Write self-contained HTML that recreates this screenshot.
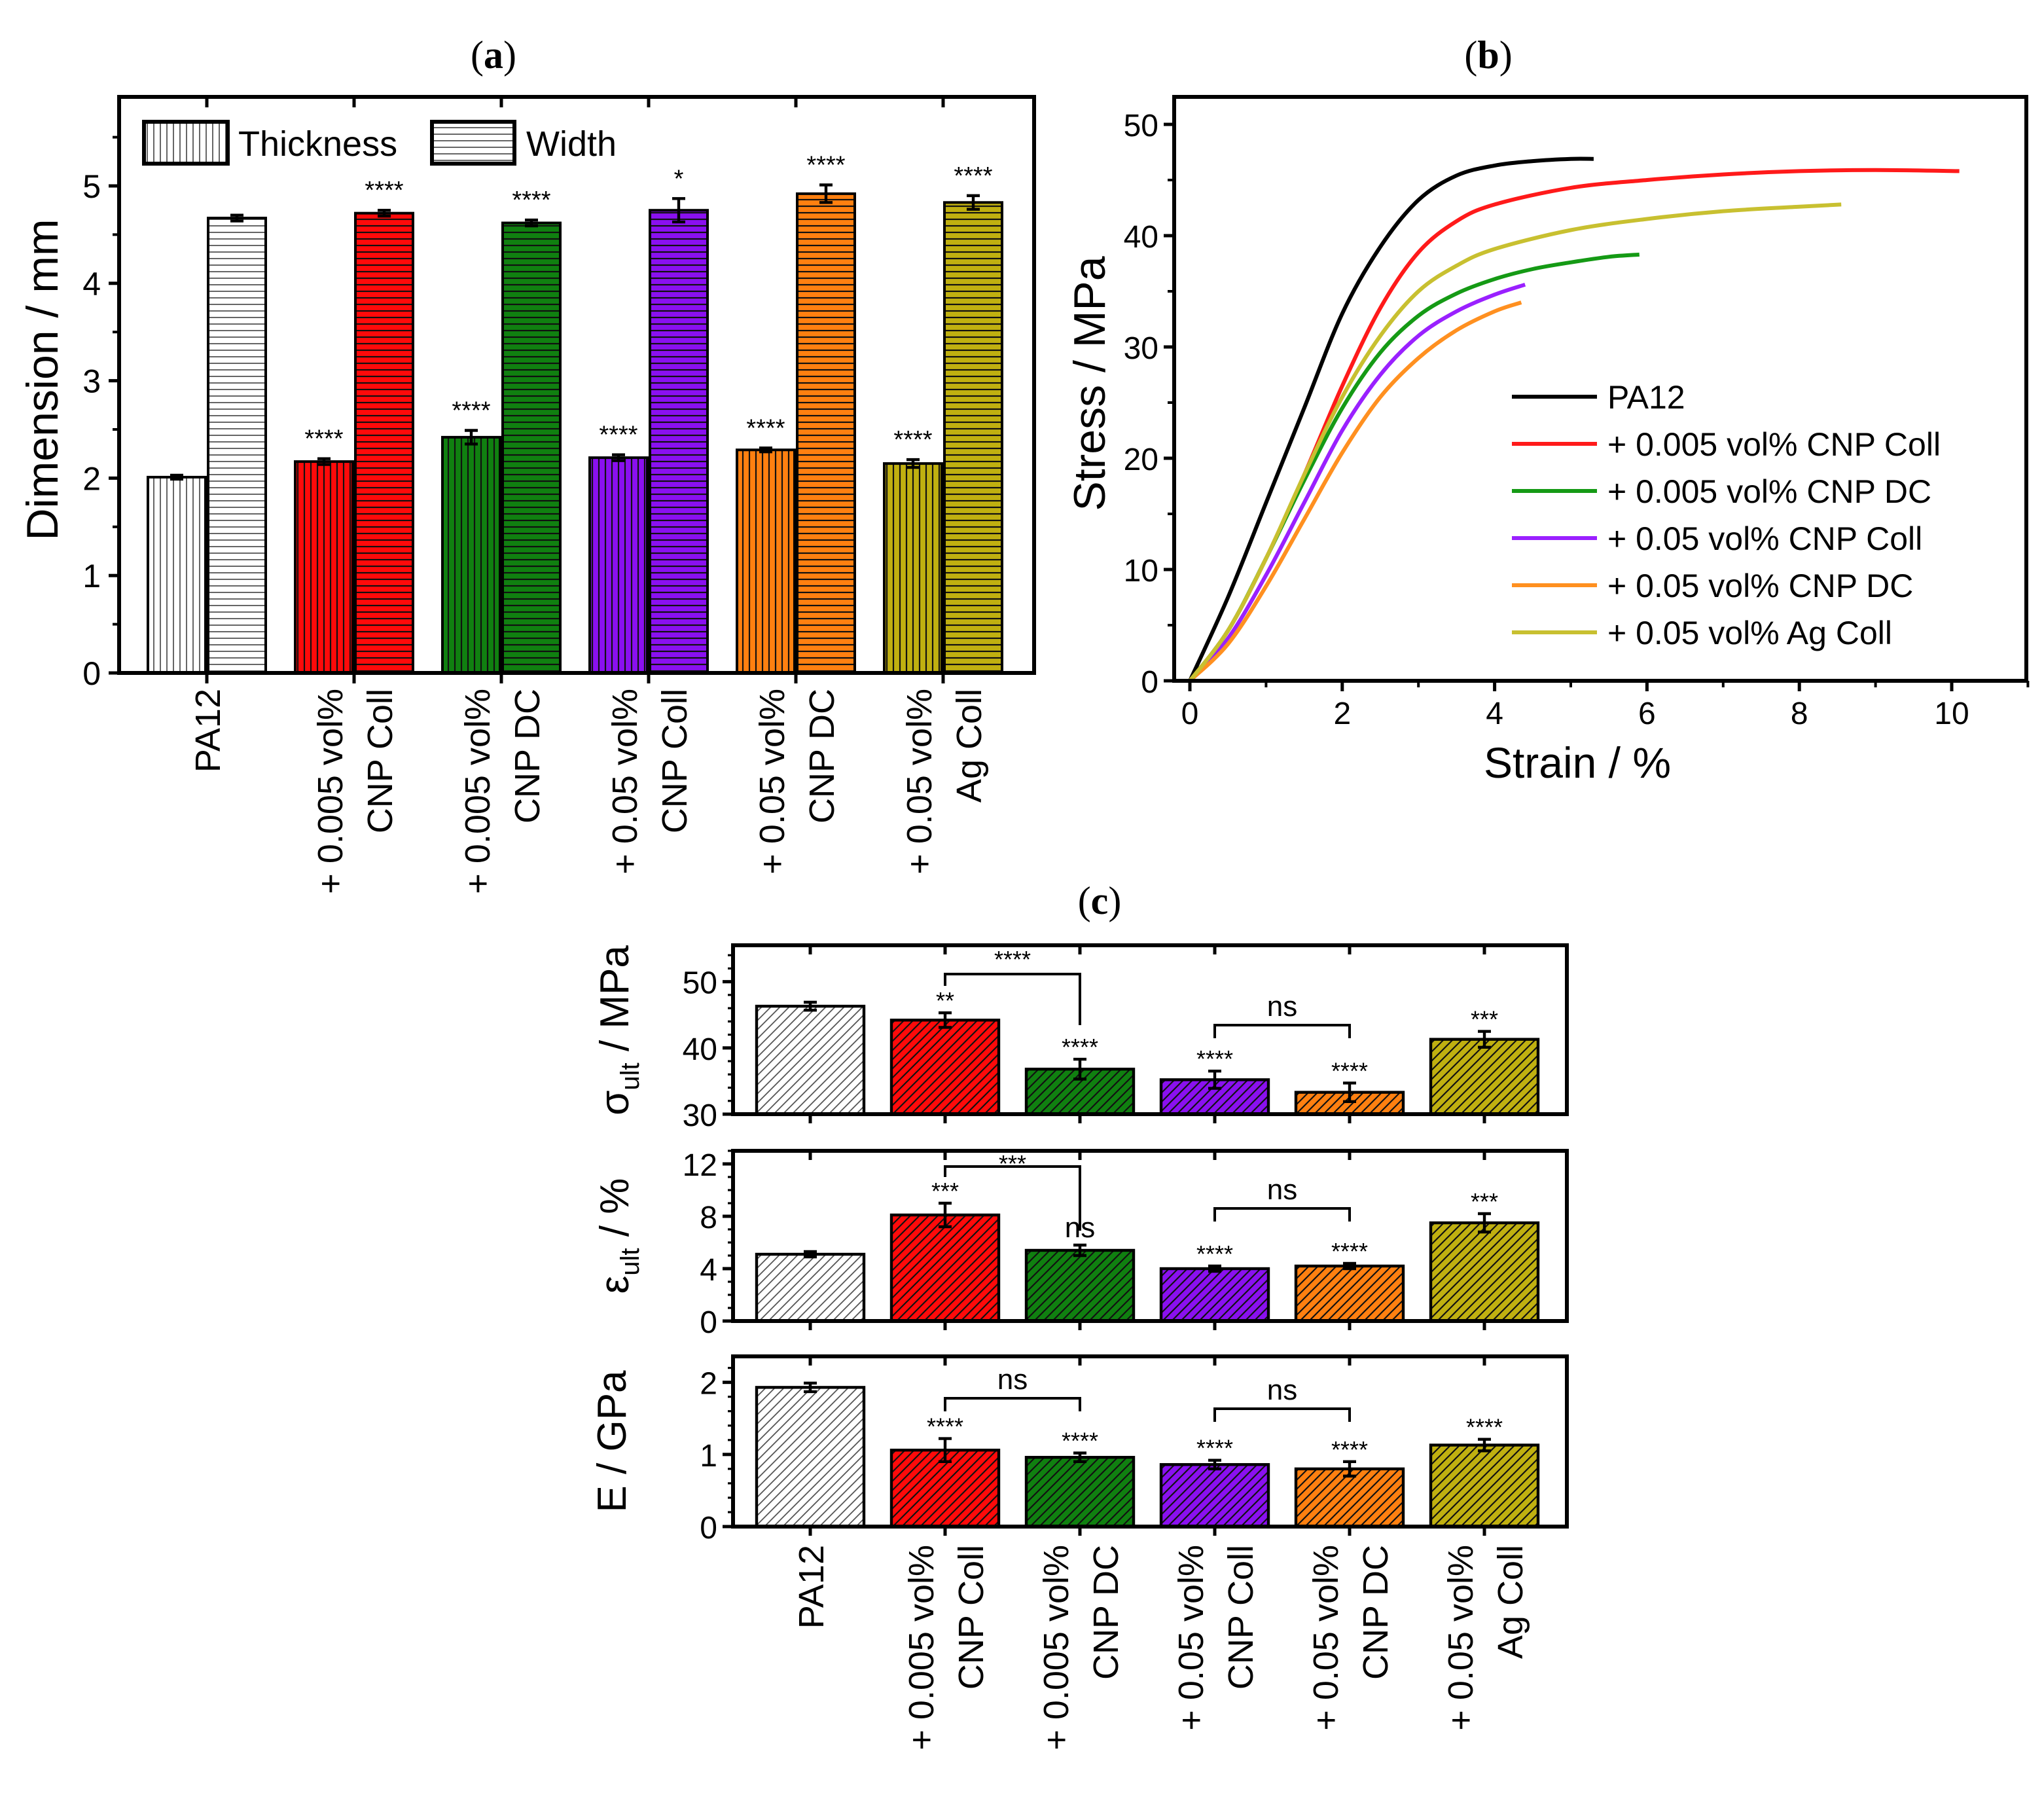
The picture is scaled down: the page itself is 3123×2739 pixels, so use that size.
<!DOCTYPE html>
<html><head><meta charset="utf-8"><style>
html,body{margin:0;padding:0;background:#fff}
svg{display:block}
text{font-family:"Liberation Sans",Arial,sans-serif;fill:#000}
.t{font-family:"Liberation Serif",serif;font-size:30px}
</style></head><body>
<svg id="fig" width="3123" height="2739" viewBox="0 0 1561.5 1369.5" xmlns="http://www.w3.org/2000/svg">
<defs id="defs"></defs>
<text class="t" x="377" y="52" text-anchor="middle">(<tspan font-weight="bold">a</tspan>)</text>
<text class="t" x="1137" y="52" text-anchor="middle">(<tspan font-weight="bold">b</tspan>)</text>
<text class="t" x="840" y="698" text-anchor="middle">(<tspan font-weight="bold">c</tspan>)</text>
<g id="pa"></g>
<g id="pb"></g>
<g id="pc"></g>
</svg>
<script>
// ---------- data ----------
const groups = ["PA12","+ 0.005 vol%|CNP Coll","+ 0.005 vol%|CNP DC","+ 0.05 vol%|CNP Coll","+ 0.05 vol%|CNP DC","+ 0.05 vol%|Ag Coll"];
const colors = ["#ffffff","#ff0a0a","#108010","#8a10f0","#ff8010","#c0b010"];
const thickness = [2.01,2.17,2.42,2.21,2.29,2.15];
const thicknessErr = [0.02,0.03,0.07,0.03,0.02,0.04];
const widthVals = [4.67,4.72,4.62,4.75,4.92,4.83];
const widthErr = [0.03,0.03,0.03,0.12,0.09,0.07];
const thickStars = ["","****","****","****","****","****"];
const widthStars = ["","****","****","*","****","****"];
const dimTicks = [0,1,2,3,4,5];

const seriesNames = ["PA12","+ 0.005 vol% CNP Coll","+ 0.005 vol% CNP DC","+ 0.05 vol% CNP Coll","+ 0.05 vol% CNP DC","+ 0.05 vol% Ag Coll"];
const lineColors = ["#000000","#ff1a1a","#159a15","#9a20ff","#ff9020","#c8c030"];
const strainPts = [
 [0,0.5,1,1.5,2,2.5,3,3.5,4,4.5,5,5.3],
 [0,0.5,1,1.5,2,2.5,3,3.5,4,5,6,7,8,9,10.1],
 [0,0.5,1,1.5,2,2.5,3,3.5,4,4.5,5,5.5,5.9],
 [0,0.5,1,1.5,2,2.5,3,3.5,4,4.4],
 [0,0.5,1,1.5,2,2.5,3,3.5,4,4.35],
 [0,0.5,1,1.5,2,2.5,3,3.5,4,5,6,7,8,8.55]];
const stressPts = [
 [0,7.5,16,24.5,33,39,43.2,45.4,46.3,46.7,46.9,46.9],
 [0,4.5,11,18.5,26.5,33.5,38.5,41.3,42.8,44.3,45,45.5,45.8,45.9,45.8],
 [0,4.5,11,18,24.5,29.5,32.8,34.8,36.1,37,37.6,38.1,38.3],
 [0,3.8,9.5,16,22.5,27.5,31,33.2,34.7,35.6],
 [0,3.3,8.5,14.5,20.5,25.5,29,31.5,33.2,34],
 [0,4.5,11,18.5,25.5,31,35,37.3,38.8,40.5,41.5,42.2,42.6,42.8]];
const strainTicks = [0,2,4,6,8,10];
const stressTicks = [0,10,20,30,40,50];

const sigma = [46.3,44.2,36.8,35.2,33.3,41.3];
const sigmaErr = [0.6,1.1,1.5,1.3,1.4,1.2];
const sigmaStars = ["","**","****","****","****","***"];
const eps = [5.1,8.1,5.4,4.0,4.2,7.5];
const epsErr = [0.2,0.9,0.4,0.2,0.2,0.7];
const epsStars = ["","***","ns","****","****","***"];
const modE = [1.93,1.06,0.96,0.86,0.80,1.13];
const modEErr = [0.06,0.16,0.06,0.06,0.1,0.08];
const modEStars = ["","****","****","****","****","****"];
const sigmaTicks=[30,40,50], epsTicks=[0,4,8,12], modETicks=[0,1,2];

// ---------- helpers ----------
const NS="http://www.w3.org/2000/svg";
function el(tag, attrs, parent){const e=document.createElementNS(NS,tag);for(const k in attrs)e.setAttribute(k,attrs[k]);if(parent)parent.appendChild(e);return e;}
const defs=document.getElementById('defs');
colors.forEach((c,i)=>{
  [['v',5,'M2.5,0V5'],['h',5,'M0,2.5H5'],['d',7,'M-1,8L8,-1M-1,1L1,-1M6,8L8,6']].forEach(([k,s,d])=>{
    const p=el('pattern',{id:'p'+k+i,width:s,height:s,patternUnits:'userSpaceOnUse'},defs);
    el('rect',{width:s,height:s,fill:c},p);
    el('path',{d:d,stroke:i==0?'#555':'#111','stroke-width':i==0?0.9:1.1},p);
  });
});
function txt(parent,x,y,s,size,anchor,extra){const t=el('text',Object.assign({x:x,y:y,'font-size':size,'text-anchor':anchor||'middle'},extra||{}),parent);t.textContent=s;return t;}
function errbar(g,x,y1,y2,w){el('path',{d:`M${x},${y1}V${y2}M${x-w},${y1}H${x+w}M${x-w},${y2}H${x+w}`,stroke:'#000','stroke-width':2.2,fill:'none'},g);}
function groupLabel(g,cx,ytop,label,size){
  const parts=label.split('|');
  const offs=parts.length==1?[10]:[-9,29];
  parts.forEach((p,k)=>{const t=txt(g,0,0,p,size,'end',{transform:`translate(${cx+offs[k]},${ytop}) rotate(-90)`});
  
  });
}

// ---------- panel a ----------
(function(){
const g=document.getElementById('pa');
const L=91,R=790,T=74,B=514;
const y=v=>B-v*74.4;
const gx=i=>158+i*112.5;
dimTicks.forEach(v=>{el('line',{x1:L-8,x2:L,y1:y(v),y2:y(v),stroke:'#000','stroke-width':2.5},g);
  el('line',{x1:L-5,x2:L,y1:y(v+0.5),y2:y(v+0.5),stroke:'#000','stroke-width':2},g);
  const t=txt(g,L-14,y(v)+9,String(v),25,'end');});
groups.forEach((lab,i)=>{
  const cx=gx(i);
  el('line',{x1:cx,x2:cx,y1:B,y2:B+8,stroke:'#000','stroke-width':2.5},g);
  el('line',{x1:cx,x2:cx,y1:T,y2:T+8,stroke:'#000','stroke-width':2.5},g);
  const b1=el('rect',{x:cx-45,y:y(thickness[i]),width:44,height:B-y(thickness[i]),fill:`url(#pv${i})`,stroke:'#000','stroke-width':2},g);
  
  
  const b2=el('rect',{x:cx+1,y:y(widthVals[i]),width:44,height:B-y(widthVals[i]),fill:`url(#ph${i})`,stroke:'#000','stroke-width':2},g);
  
  
  errbar(g,cx-23,y(thickness[i]+thicknessErr[i]),y(thickness[i]-thicknessErr[i]),5);
  errbar(g,cx+23,y(widthVals[i]+widthErr[i]),y(widthVals[i]-widthErr[i]),5);
  if(thickStars[i])txt(g,cx-23,y(thickness[i]+thicknessErr[i])-9,thickStars[i],19);
  if(widthStars[i])txt(g,cx+23,y(widthVals[i]+widthErr[i])-9,widthStars[i],19);
  groupLabel(g,cx,526,lab,27);
});
el('rect',{x:L,y:T,width:R-L,height:B-T,fill:'none',stroke:'#000','stroke-width':3},g);
const lg=el('g',{},g);
el('rect',{x:110,y:93,width:64,height:32,fill:'url(#pv0)',stroke:'#000','stroke-width':3},lg);
txt(lg,182,119,'Thickness',27,'start');
el('rect',{x:330,y:93,width:63,height:32,fill:'url(#ph0)',stroke:'#000','stroke-width':3},lg);
txt(lg,402,119,'Width',27,'start');
const yl=txt(g,0,0,'Dimension / mm',34,'middle',{transform:'translate(44,290) rotate(-90)'});

})();

// ---------- panel b ----------
(function(){
const g=document.getElementById('pb');
const L=897,R=1548,T=74,B=520;
const x=v=>909+v*58.2, y=v=>B-v*8.5;
strainTicks.forEach(v=>{el('line',{x1:x(v),x2:x(v),y1:B,y2:B+8,stroke:'#000','stroke-width':2.5},g);
  el('line',{x1:x(v+1),x2:x(v+1),y1:B,y2:B+5,stroke:'#000','stroke-width':2},g);
  const t=txt(g,x(v),B+33,String(v),24);});
stressTicks.forEach(v=>{el('line',{x1:L-8,x2:L,y1:y(v),y2:y(v),stroke:'#000','stroke-width':2.5},g);
  if(v<50)el('line',{x1:L-5,x2:L,y1:y(v+5),y2:y(v+5),stroke:'#000','stroke-width':2},g);
  const t=txt(g,L-12,y(v)+9,String(v),24,'end');});
strainPts.forEach((xs,i)=>{
  const pts=xs.map((v,k)=>[x(v),y(stressPts[i][k])]);
  let d='M'+pts[0].join(',');
  for(let k=0;k<pts.length-1;k++){const p0=pts[k-1]||pts[k],p1=pts[k],p2=pts[k+1],p3=pts[k+2]||p2;
    d+=`C${p1[0]+(p2[0]-p0[0])/6},${p1[1]+(p2[1]-p0[1])/6} ${p2[0]-(p3[0]-p1[0])/6},${p2[1]-(p3[1]-p1[1])/6} ${p2[0]},${p2[1]}`;}
  const p=el('path',{d:d,fill:'none',stroke:lineColors[i],'stroke-width':3},g);
  
  
});
el('rect',{x:L,y:T,width:R-L,height:B-T,fill:'none',stroke:'#000','stroke-width':3},g);
seriesNames.forEach((n,i)=>{const ly=303+i*36;
  const lg=el('g',{},g);
  
  
  el('line',{x1:1155,x2:1220,y1:ly,y2:ly,stroke:lineColors[i],'stroke-width':3},lg);
  txt(lg,1228,ly+9,n,25,'start');});
const xt=txt(g,1205,594,'Strain / %',33);
const yt=txt(g,0,0,'Stress / MPa',34,'middle',{transform:'translate(844,293) rotate(-90)'});
})();

// ---------- panel c ----------
(function(){
const g=document.getElementById('pc');
const L=560,R=1197;
const gx=i=>619+i*103;
const subs=[
 {T:722,B:851,min:30,max:55.5,vals:sigma,err:sigmaErr,stars:sigmaStars,ticks:sigmaTicks,minor:2,name:'sigma-ult',
  br:[[1,2,744,753,783,'****',737],[3,4,783,null,null,'ns',776]]},
 {T:879,B:1009,min:0,max:13,vals:eps,err:epsErr,stars:epsStars,ticks:epsTicks,minor:1,name:'eps-ult',
  br:[[1,2,891,899,940,'***',893],[3,4,923,null,null,'ns',916]]},
 {T:1036,B:1166,min:0,max:2.36,vals:modE,err:modEErr,stars:modEStars,ticks:modETicks,minor:0.2,name:'modulus',
  br:[[1,2,1068,null,null,'ns',1061],[3,4,1076,null,null,'ns',1069]]}];
subs.forEach(s=>{
  const sg=el('g',{},g);
  
  
  const y=v=>s.B-(v-s.min)*(s.B-s.T)/(s.max-s.min);
  for(let v=s.min;v<=s.max+1e-9;v+=s.minor)el('line',{x1:L-4,x2:L,y1:y(v),y2:y(v),stroke:'#000','stroke-width':1.6},sg);
  s.ticks.forEach(v=>{el('line',{x1:L-8,x2:L,y1:y(v),y2:y(v),stroke:'#000','stroke-width':2.5},sg);
    const t=txt(sg,L-12,y(v)+9,String(v),24,'end');});
  s.vals.forEach((v,i)=>{const cx=gx(i);
    el('line',{x1:cx,x2:cx,y1:s.B,y2:s.B+7,stroke:'#000','stroke-width':2.5},sg);
    el('line',{x1:cx,x2:cx,y1:s.T,y2:s.T+7,stroke:'#000','stroke-width':2.5},sg);
    const b=el('rect',{x:cx-41,y:y(v),width:82,height:s.B-y(v),fill:`url(#pd${i})`,stroke:'#000','stroke-width':2.2},sg);
    
    
    errbar(sg,cx,y(v+s.err[i]),y(v-s.err[i]),5);
    if(s.stars[i]){const ns=s.stars[i]=='ns';txt(sg,cx,y(v+s.err[i])-(ns?6:3),s.stars[i],ns?22:18);}
  });
  s.br.forEach(([a,b,by,l1,l2,lab,ly])=>{
    const x1=gx(a),x2=gx(b);
    const yl=l1||by+10, yr=l2||by+10;
    const br=el('path',{d:`M${x1},${yl}V${by}H${x2}V${yr}`,fill:'none',stroke:'#000','stroke-width':2},sg);
    
    
    txt(sg,(x1+x2)/2,ly+(lab=='ns'?0:2),lab,lab=='ns'?22:18);
  });
  el('rect',{x:L,y:s.T,width:R-L,height:s.B-s.T,fill:'none',stroke:'#000','stroke-width':3},sg);
});
groups.forEach((lab,i)=>groupLabel(g,gx(i),1180,lab,27));
const t1=el('text',{'font-size':31,'text-anchor':'middle',transform:'translate(480,787) rotate(-90)'},g);
t1.innerHTML='σ<tspan font-size="20" dy="8">ult</tspan><tspan dy="-8"> / MPa</tspan>';

const t2=el('text',{'font-size':31,'text-anchor':'middle',transform:'translate(480,944) rotate(-90)'},g);
t2.innerHTML='ε<tspan font-size="20" dy="8">ult</tspan><tspan dy="-8"> / %</tspan>';

const t3=txt(g,0,0,'E / GPa',31,'middle',{transform:'translate(478,1101) rotate(-90)'});

})();
</script>
</body></html>
